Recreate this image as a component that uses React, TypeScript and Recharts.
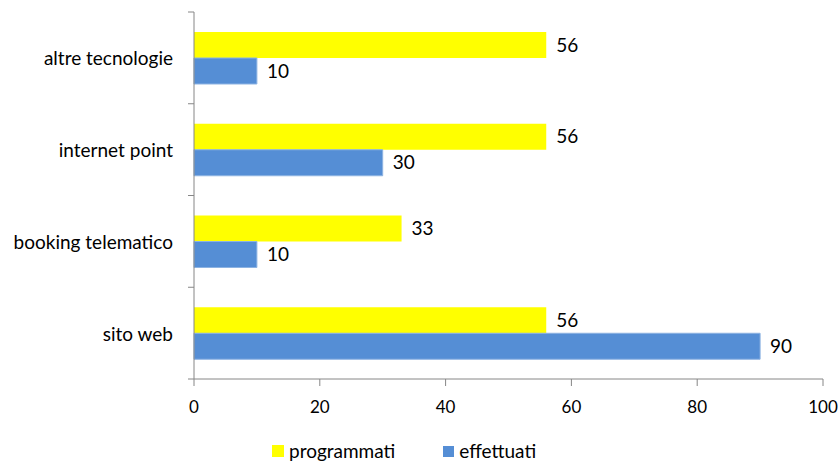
import React from "react";
import {
  BarChart,
  Bar,
  XAxis,
  YAxis,
  Legend,
  LabelList,
} from "recharts";

const categories = [
  "altre tecnologie",
  "internet point",
  "booking telematico",
  "sito web",
];
const programmati = [56, 56, 33, 56];
const effettuati = [10, 30, 10, 90];
const xTicks = [0, 20, 40, 60, 80, 100];

const YELLOW = "#ffff00";
const BLUE = "#558ed5";
const AXIS = "#868686";
const FONT = "Lato, 'Open Sans', sans-serif";
const FS = 19;

const data = categories.map((name, i) => ({
  name,
  programmati: programmati[i],
  effettuati: effettuati[i],
}));

// category labels plus the small boundary ticks Excel draws between groups
const CategoryTick = (props: any) => {
  const { x, y, payload, index } = props;
  const band = 367 / categories.length;
  const ax = x + 21;
  return (
    <g>
      <line x1={ax - 6} x2={ax} y1={y - band / 2} y2={y - band / 2} stroke={AXIS} />
      {index === categories.length - 1 && (
        <line x1={ax - 6} x2={ax} y1={y + band / 2} y2={y + band / 2} stroke={AXIS} />
      )}
      <text
        x={x}
        y={y}
        textAnchor="end"
        dominantBaseline="central"
        fill="#000"
        fontSize={FS}
        fontFamily={FONT}
      >
        {payload.value}
      </text>
    </g>
  );
};

const LegendContent = () => (
  <div style={{ display: "flex", alignItems: "center", fontFamily: FONT, fontSize: FS, color: "#000", lineHeight: "22px" }}>
    <span style={{ width: 12, height: 12, background: YELLOW, display: "inline-block", marginRight: 5 }} />
    <span style={{ marginRight: 48 }}>programmati</span>
    <span style={{ width: 11, height: 11, background: BLUE, display: "inline-block", marginRight: 5 }} />
    <span>effettuati</span>
  </div>
);

export default function App() {
  return (
    <div style={{ position: "absolute", left: 0, top: 0, background: "#fff" }}>
      <BarChart
        width={838}
        height={464}
        data={data}
        layout="vertical"
        margin={{ top: 12, right: 15, bottom: 0, left: 0 }}
        barSize={26}
        barGap={0}
      >
        <XAxis
          type="number"
          domain={[0, 100]}
          ticks={xTicks}
          axisLine={{ stroke: AXIS }}
          tickLine={{ stroke: AXIS }}
          tickSize={7}
          tickMargin={15}
          height={61}
          tick={{ fill: "#000", fontSize: 17, fontFamily: FONT }}
        />
        <YAxis
          type="category"
          dataKey="name"
          width={194}
          axisLine={{ stroke: AXIS }}
          tickLine={false}
          tickMargin={15}
          tick={<CategoryTick />}
        />
        <Legend
          verticalAlign="bottom"
          height={24}
          content={<LegendContent />}
          wrapperStyle={{ left: 272, width: "auto", top: 440 }}
        />
        <Bar dataKey="programmati" fill={YELLOW} isAnimationActive={false}>
          <LabelList
            dataKey="programmati"
            position="right"
            offset={10}
            fill="#000"
            fontSize={FS}
            fontFamily={FONT}
          />
        </Bar>
        <Bar dataKey="effettuati" fill={BLUE} stroke="#8db3e2" strokeWidth={1} isAnimationActive={false}>
          <LabelList
            dataKey="effettuati"
            position="right"
            offset={10}
            fill="#000"
            fontSize={FS}
            fontFamily={FONT}
          />
        </Bar>
      </BarChart>
    </div>
  );
}
